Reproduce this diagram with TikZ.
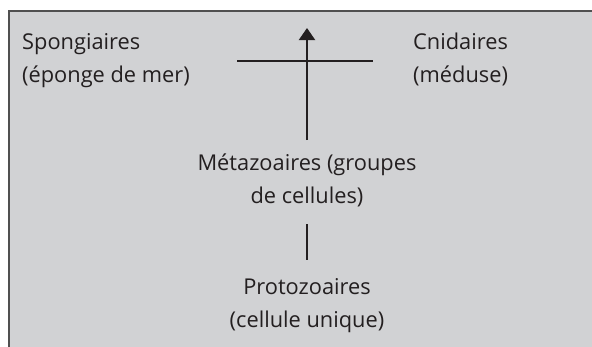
\documentclass[tikz,border=0pt]{standalone}
\usepackage{fontspec}
\setmainfont{Open Sans}
\usetikzlibrary{arrows.meta}
\definecolor{boxgray}{HTML}{D1D2D4}
\definecolor{boxedge}{HTML}{505050}
\definecolor{ink}{HTML}{231F20}
\tikzset{
  lbl/.style={inner sep=0pt, text=ink, font=\fontsize{21.8}{33}\selectfont},
  conn/.style={draw=ink, line width=2pt},
}
\begin{document}
\begin{tikzpicture}[x=1pt,y=-1pt]
\useasboundingbox (0,0) rectangle (592,346);
\clip (0,0) rectangle (592,346);
\draw[fill=boxgray, draw=boxedge, line width=2pt] (9,11) rectangle (620,380);
\node[lbl, anchor=base west, align=left] (spong) at (22,82) {Spongiaires\\(éponge de mer)};
\node[lbl, anchor=base west, align=left] (cnid) at (413,82) {Cnidaires\\(méduse)};
\node[lbl, anchor=base, align=center] (meta) at (307,203) {Métazoaires (groupes\\de cellules)};
\node[lbl, anchor=base, align=center] (proto) at (307,327) {Protozoaires\\(cellule unique)};
\coordinate (tip) at (307,28);
\coordinate (hl) at (237,61);
\coordinate (hr) at (373,61);
\coordinate (mtop) at (307,140);
\coordinate (mbot) at (307,224);
\coordinate (ptop) at (307,260);
\draw[conn, -{Triangle[width=16pt,length=12pt]}] (mtop) -- (tip);
\draw[conn] (hl) -- (hr);
\draw[conn] (mbot) -- (ptop);
\end{tikzpicture}
\end{document}
